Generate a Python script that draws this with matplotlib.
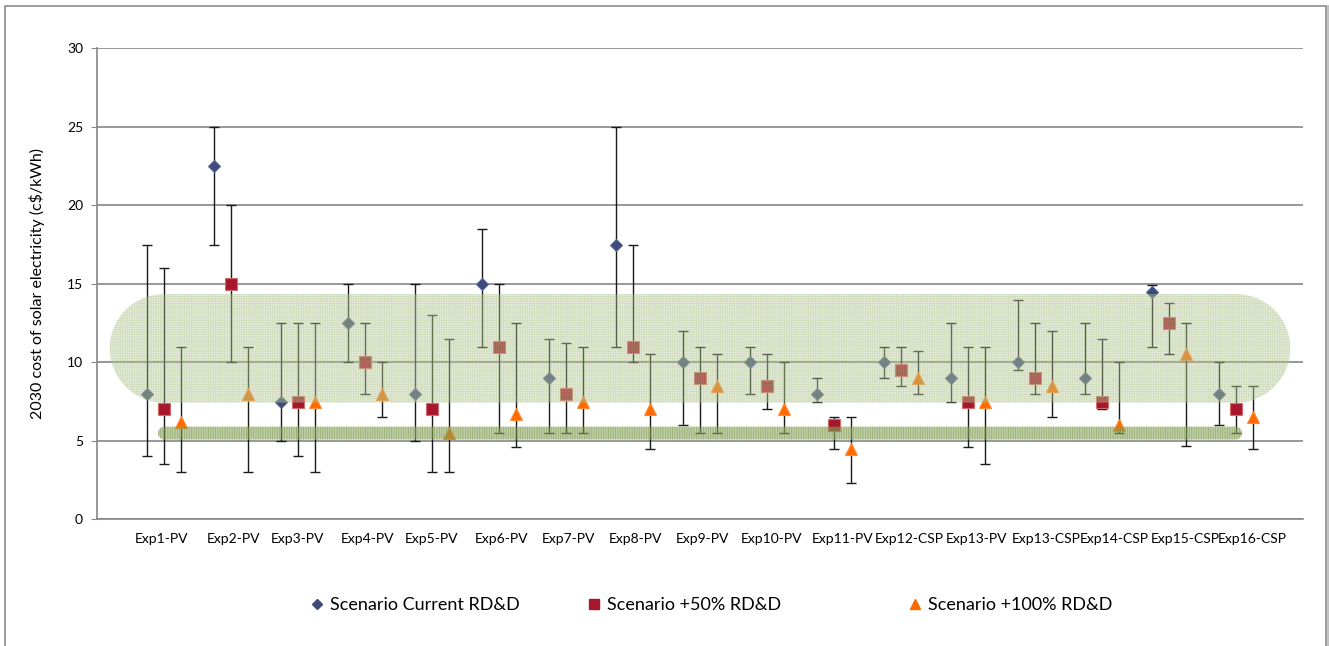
import numpy as np
import matplotlib
matplotlib.use('Agg')
import matplotlib.pyplot as plt
from matplotlib.path import Path
from matplotlib.patches import PathPatch, Rectangle
from matplotlib.lines import Line2D

plt.rcParams['font.family'] = ['Lato', 'DejaVu Sans']
plt.rcParams['hatch.linewidth'] = 0.6

# experts / technologies
labels = ['Exp1-PV', 'Exp2-PV', 'Exp3-PV', 'Exp4-PV', 'Exp5-PV', 'Exp6-PV',
          'Exp7-PV', 'Exp8-PV', 'Exp9-PV', 'Exp10-PV', 'Exp11-PV', 'Exp12-CSP',
          'Exp13-PV', 'Exp13-CSP', 'Exp14-CSP', 'Exp15-CSP', 'Exp16-CSP']

# 2030 cost (c$/kWh): median with upper / lower bound
current = [8, 22.5, 7.5, 12.5, 8, 15, 9, 17.5, 10, 10, 8, 10, 9, 10, 9, 14.5, 8]
current_hi = [17.5, 25, 12.5, 15, 15, 18.5, 11.5, 25, 12, 11, 9, 11, 12.5, 14, 12.5, 14.9, 10]
current_lo = [4, 17.5, 5, 10, 5, 11, 5.5, 11, 6, 8, 7.5, 9, 7.5, 9.5, 8, 11, 6]

plus50 = [7, 15, 7.5, 10, 7, 11, 8, 11, 9, 8.5, 6, 9.5, 7.5, 9, 7.5, 12.5, 7]
plus50_hi = [16, 20, 12.5, 12.5, 13, 15, 11.2, 17.5, 11, 10.5, 6.5, 11, 11, 12.5, 11.5, 13.8, 8.5]
plus50_lo = [3.5, 10, 4, 8, 3, 5.5, 5.5, 10, 5.5, 7, 4.5, 8.5, 4.6, 8, 7, 10.5, 5.5]

plus100 = [6.2, 8, 7.5, 8, 5.5, 6.7, 7.5, 7, 8.5, 7, 4.5, 9, 7.5, 8.5, 6, 10.5, 6.5]
plus100_hi = [11, 11, 12.5, 10, 11.5, 12.5, 11, 10.5, 10.5, 10, 6.5, 10.75, 11, 12, 10, 12.5, 8.5]
plus100_lo = [3, 3, 3, 6.5, 3, 4.6, 5.5, 4.5, 5.5, 5.5, 2.3, 8, 3.5, 6.5, 5.5, 4.7, 4.5]

# layout: small shift of each category label (the original labels drift a bit)
label_shift = [-0.04, 0.03, -0.01, 0.04, 0.0, 0.03, 0.03, 0.03, 0.04, 0.06,
               0.13, 0.13, 0.13, 0.16, 0.19, 0.25, 0.24]

W, H = 1329, 646
fig = plt.figure(figsize=(W / 100, H / 100), dpi=100)
left, right, bottom, top = 97 / W, 1303 / W, (H - 519.3) / H, (H - 48.3) / H
ax = fig.add_axes([left, bottom, right - left, top - bottom])

XMAX, YMAX = 18, 30
ax.set_xlim(0, XMAX)
ax.set_ylim(0, YMAX)
px_x = (right - left) * W / XMAX
px_y = (top - bottom) * H / YMAX

x = np.arange(1, len(labels) + 1)


def bars(xs, y, hi, lo, marker, ms, fc, ec):
    y = np.array(y)
    err = [y - np.array(lo), np.array(hi) - y]
    ax.errorbar(xs, y, yerr=err, fmt='none', ecolor='#1a1a1a', elinewidth=1.0,
                capsize=3.5, capthick=1.0, zorder=2)
    ax.plot(xs, y, linestyle='none', marker=marker, markersize=ms,
            markerfacecolor=fc, markeredgecolor=ec, markeredgewidth=0.8, zorder=3)


bars(x - 0.25, current, current_hi, current_lo, 'D', 6.5, '#3e4a7a', '#5a6694')
bars(x, plus50, plus50_hi, plus50_lo, 's', 8, '#a6172d', '#d46a6a')
bars(x + 0.25, plus100, plus100_hi, plus100_lo, '^', 8.5, '#ff6a00', '#ff8a30')


def stadium(x0, x1, y0, y1, n=40):
    # rounded ends that look circular on screen
    ry = (y1 - y0) / 2
    rx = ry * px_y / px_x
    yc = (y0 + y1) / 2
    t1 = np.linspace(-np.pi / 2, np.pi / 2, n)
    t2 = np.linspace(np.pi / 2, 3 * np.pi / 2, n)
    xs = np.concatenate([x1 - rx + rx * np.cos(t1), x0 + rx + rx * np.cos(t2)])
    ys = np.concatenate([yc + ry * np.sin(t1), yc + ry * np.sin(t2)])
    verts = np.column_stack([xs, ys])
    verts = np.vstack([verts, verts[:1]])
    codes = [Path.MOVETO] + [Path.LINETO] * (len(verts) - 2) + [Path.CLOSEPOLY]
    return Path(verts, codes)


# translucent highlight bands drawn over the data
big = PathPatch(stadium(0.19, 17.81, 7.43, 14.35), facecolor=(0.74, 0.80, 0.62, 0.34),
                edgecolor=(0.62, 0.72, 0.47, 0.30), hatch='+++++++', linewidth=0, zorder=4)
ax.add_patch(big)
small = PathPatch(stadium(0.91, 17.09, 5.08, 5.9), facecolor=(0.55, 0.65, 0.36, 0.55),
                  edgecolor=(0.45, 0.56, 0.25, 0.5), hatch='|||||||', linewidth=0, zorder=4)
ax.add_patch(small)

ax.set_yticks(range(0, 31, 5))
ax.yaxis.grid(True, color='#868686', linewidth=1.2)
ax.set_axisbelow(True)
ax.tick_params(axis='y', length=4, color='#868686', labelsize=10, pad=6)
ax.set_xticks(x + np.array(label_shift))
ax.set_xticklabels(labels, fontsize=10)
ax.tick_params(axis='x', length=0, pad=10)
for s in ['top', 'right']:
    ax.spines[s].set_visible(False)
for s in ['left', 'bottom']:
    ax.spines[s].set_color('#868686')
    ax.spines[s].set_linewidth(1.2)

ax.set_ylabel('2030 cost of solar electricity (c$/kWh)', fontsize=11.5, parse_math=False)
ax.yaxis.set_label_coords(-0.043, 0.5)

# legend items
items = [
    ('D', 5, '#3e4a7a', 'Scenario Current RD&D', 320),
    ('s', 7, '#a6172d', 'Scenario +50% RD&D', 597),
    ('^', 7, '#ff6a00', 'Scenario +100% RD&D', 918),
]
for m, ms, c, txt, px in items:
    h = Line2D([], [], linestyle='none', marker=m, markersize=ms, color=c)
    fig.legend(handles=[h], labels=[txt], loc='center left', frameon=False,
               bbox_to_anchor=((px - 12) / W, (H - 605) / H), fontsize=13,
               handlelength=1.0, handletextpad=0.2, borderpad=0, borderaxespad=0)

# chart area frame
fig.patches.append(Rectangle((5 / W, -0.02), 1321 / W, (H - 6) / H + 0.02,
                             transform=fig.transFigure, fill=False,
                             edgecolor='#8c8c8c', linewidth=1.2))
fig.lines.append(Line2D([1327.5 / W, 1327.5 / W], [0, (H - 6) / H],
                        transform=fig.transFigure, color='#c0c0c0', linewidth=2))

fig.savefig('out.png', dpi=100)
